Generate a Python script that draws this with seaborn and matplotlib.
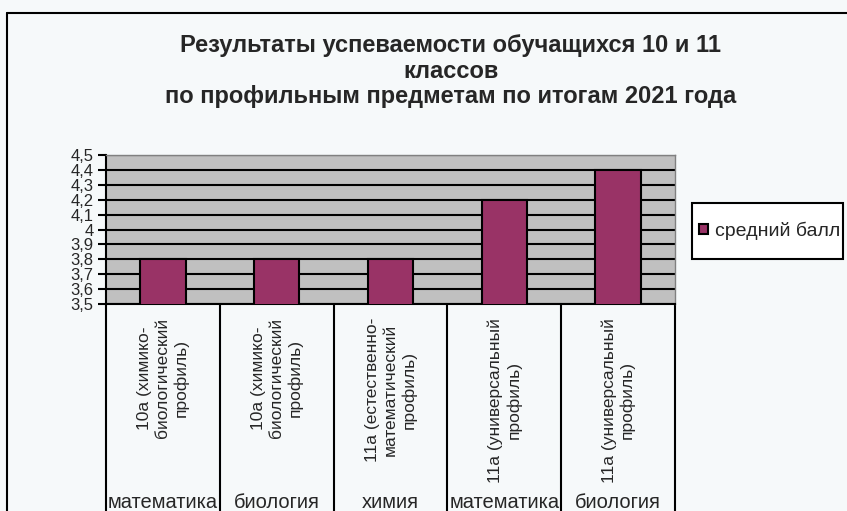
import matplotlib
matplotlib.use("Agg")
import matplotlib.pyplot as plt
import matplotlib.transforms as mtransforms
from matplotlib.patches import Rectangle
from matplotlib.lines import Line2D
import seaborn as sns
import pandas as pd

# Chart data
classes = [
    "10а (химико-\nбиологический\nпрофиль)",
    "10а (химико-\nбиологический\nпрофиль)",
    "11а (естественно-\nматематический\nпрофиль)",
    "11а (универсальный\nпрофиль)",
    "11а (универсальный\nпрофиль)",
]
subjects = ["математика", "биология", "химия", "математика", "биология"]
avg_score = [3.8, 3.8, 3.8, 4.2, 4.4]
y_ticks = [3.5, 3.6, 3.7, 3.8, 3.9, 4.0, 4.1, 4.2, 4.3, 4.4, 4.5]
y_tick_labels = ["3,5", "3,6", "3,7", "3,8", "3,9", "4", "4,1", "4,2", "4,3", "4,4", "4,5"]
series_name = "средний балл"
title = "Результаты успеваемости обучащихся 10 и 11\nклассов\nпо профильным предметам по итогам 2021 года"

BAR = "#993366"
PLOT_BG = "#C0C0C0"

sns.set_style("white")
plt.rcParams["font.family"] = ["Liberation Sans", "DejaVu Sans"]

df = pd.DataFrame({"pos": list(range(len(avg_score))), "score": avg_score})

W, H = 847, 511
fig = plt.figure(figsize=(W / 100, H / 100), dpi=100, facecolor="#f6f9fa")
ax = fig.add_axes([106 / W, 1 - 304 / H, 569 / W, 149 / H])
ax.set_facecolor(PLOT_BG)

sns.barplot(data=df, x="pos", y="score", color=BAR, saturation=1, width=0.4,
            edgecolor="black", linewidth=1.5, label=series_name, ax=ax, zorder=3)
handles, labels = ax.get_legend_handles_labels()
if ax.get_legend() is not None:
    ax.get_legend().remove()

ax.set_ylim(3.5, 4.5)
ax.set_xlim(-0.5, len(avg_score) - 0.5)
ax.set_yticks(y_ticks)
ax.set_yticklabels(y_tick_labels, fontsize=12)
ax.yaxis.grid(True, color="black", linewidth=1.5, zorder=1)
ax.set_axisbelow(True)
ax.tick_params(axis="y", direction="out", length=6, width=1.5, color="black", pad=3, left=True)
ax.set_xlabel("")
ax.set_ylabel("")

# inner category labels (rotated)
ax.set_xticks(range(len(classes)))
ax.set_xticklabels(classes, rotation=90, fontsize=12.5, linespacing=1.25)
plt.setp(ax.get_xticklabels(), multialignment="center", va="top", ha="center")
ax.tick_params(axis="x", length=0, pad=10)

for side in ["top", "right"]:
    ax.spines[side].set_color("#808080")
    ax.spines[side].set_linewidth(1)
ax.spines["left"].set_color("black")
ax.spines["left"].set_linewidth(1.5)
ax.spines["bottom"].set_color("black")
ax.spines["bottom"].set_linewidth(1.5)

# category table lines below the plot
trans = mtransforms.blended_transform_factory(ax.transData, ax.transAxes)
for b in range(len(classes) + 1):
    ax.add_line(Line2D([b - 0.5, b - 0.5], [0, -1.6], transform=trans,
                       color="black", lw=1.5, clip_on=False))

# outer category labels (subjects) at the bottom edge
trans2 = mtransforms.blended_transform_factory(ax.transData, fig.transFigure)
for i, s in enumerate(subjects):
    ax.text(i, 1 - 508 / H, s, transform=trans2, ha="center", va="baseline", fontsize=14.5)

# title
fig.text(451 / W, 1 - 34 / H, title, ha="center", va="top", fontsize=17,
         fontweight="bold", linespacing=1.15)

# legend
fig.patches.append(Rectangle((692 / W, 1 - 259 / H), 151 / W, 56 / H,
                             transform=fig.transFigure, facecolor="white",
                             edgecolor="black", lw=1.5, zorder=1))
leg = fig.legend(handles, labels, loc="center left", bbox_to_anchor=(699 / W, 1 - 231 / H),
                 bbox_transform=fig.transFigure, frameon=False, fontsize=14,
                 handlelength=0.45, handleheight=0.45, handletextpad=0.35,
                 borderaxespad=0, borderpad=0)
leg.set_zorder(5)

# outer chart border
fig.add_artist(Line2D([7 / W, 1.0], [1 - 13 / H, 1 - 13 / H], transform=fig.transFigure, color="black", lw=1.5))
fig.add_artist(Line2D([7 / W, 7 / W], [1 - 13 / H, 0.0], transform=fig.transFigure, color="black", lw=1.5))

fig.savefig("out.png", dpi=100, facecolor=fig.get_facecolor())
